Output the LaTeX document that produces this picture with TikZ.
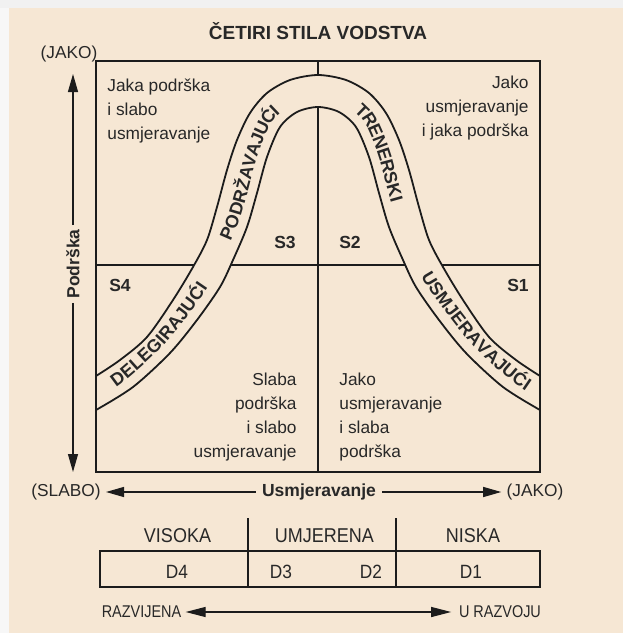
\documentclass[tikz,border=0pt]{standalone}
\usepackage{fontspec}
\setmainfont{Liberation Sans}
\usepackage{xcolor}
\usepackage{tikz}
\usetikzlibrary{arrows.meta,positioning,decorations.text}
\definecolor{pagebg}{RGB}{246,231,212}
\definecolor{ink}{RGB}{40,40,40}
\definecolor{lineink}{RGB}{28,28,28}
\newcommand{\bandfont}{\fontsize{9}{10}\selectfont\bfseries}
\newcommand{\narrowtxt}[2][0.9]{\scalebox{#1}[1]{#2}}

\begin{document}
\begin{tikzpicture}[x=0.5pt, y=-0.5pt,
      txt/.style={font=\fontsize{8.65}{12}\selectfont, text=ink, inner sep=0pt},
      lbl/.style={font=\fontsize{8.75}{10}\selectfont\bfseries, text=ink},
      head/.style={font=\fontsize{10}{11}\selectfont, text=ink},
      tab/.style={font=\fontsize{9.6}{11}\selectfont, text=ink},
      small/.style={font=\fontsize{8.5}{10}\selectfont, text=ink, inner sep=2pt},
      frame/.style={draw=lineink, line width=0.65pt},
      band/.style={draw=lineink, line width=0.9pt, fill=pagebg},
      axis/.style={draw=lineink, line width=0.6pt, -{Triangle[length=9pt,width=5pt]}},
      twoway/.style={draw=lineink, line width=0.6pt,
                     {Triangle[length=10pt,width=5pt]}-{Triangle[length=10pt,width=5pt]}},
      curvetext/.style 2 args={postaction={decorate, decoration={text along path,
                     text={|\bandfont|#2}, text color=ink, raise=-3.2pt,
                     text align={left indent=#1}}}}
  ]
    \fill[gray!6] (0,0) rectangle (623,633);
    \fill[gray!11] (0,0) rectangle (623,8);
    \fill[pagebg] (9,8) rectangle (623,633);
    \useasboundingbox (0,0) rectangle (623,633);

    \node[lbl, font=\fontsize{9.5}{11}\selectfont\bfseries] (title) at (318,31) {ČETIRI STILA VODSTVA};

    % quadrants
    \draw[lineink, line width=0.6pt] (318,61) -- (318,472);
    \draw[lineink, line width=0.6pt] (96,265) -- (540,265);

    % bell band
    \filldraw[band] plot[smooth] coordinates {(96,376) (120,360) (147,337) (173,300) (193,267)
        (207,240) (217,207) (227,170) (237,140) (250,113) (267,93) (290,80) (318,75)
        (346,80) (369,93) (386,113) (399,140) (409,170) (419,207) (429,240) (443,267)
        (463,300) (489,337) (516,360) (540,376)}
      -- plot[smooth] coordinates {(540,410) (503,387) (466,353) (439,320) (416,287)
        (403,260) (389,227) (379,193) (369,157) (356,127) (339,112) (318,107) (297,112)
        (280,127) (267,157) (257,193) (247,227) (233,260) (220,287) (197,320) (170,353)
        (133,387) (96,410)} -- cycle;
    \path[curvetext={9.8pt}{DELEGIRAJUĆI}, curvetext={101.9pt}{PODRŽAVAJUĆI}]
      plot[smooth] coordinates {(96,393) (123,374) (158,342) (184,310) (206,279) (218,254)
        (232,222) (242,189) (252,152) (267,118) (290,98) (318,91)};
    \path[curvetext={21.9pt}{TRENERSKI}, curvetext={112.6pt}{USMJERAVAJUĆI}]
      plot[smooth] coordinates {(318,91) (346,98) (369,118) (384,152) (394,189) (404,222)
        (418,254) (430,279) (452,310) (478,342) (513,374) (540,393) (566,410) (592,428)};

    \draw[frame] (96,61) rectangle (540,472);

    \node[lbl] (s4) at (120,285) {S4};
    \node[lbl] (s3) at (285,242) {S3};
    \node[lbl] (s2) at (350,242) {S2};
    \node[lbl] (s1) at (518,285) {S1};

    \node[txt, anchor=north west, align=left] (tl) at (107,78) {Jaka podrška\\i slabo\\usmjeravanje};
    \node[txt, anchor=north east, align=right] (tr) at (529,76) {Jako\\usmjeravanje\\i jaka podrška};
    \node[txt, anchor=north east, align=right] (bl) at (297,373) {Slaba\\podrška\\i slabo\\usmjeravanje};
    \node[txt, anchor=north west, align=left] (br) at (339,373) {Jako\\usmjeravanje\\i slaba\\podrška};

    % axes
    \node[txt] (jakoy) at (69,54) {(JAKO)};
    \node[lbl, rotate=90, inner sep=2pt] (podrska) at (73,264) {Podrška};
    \coordinate (ytop) at (73,74);
    \coordinate (ybot) at (73,472);
    \draw[axis] (podrska) -- (ytop);
    \draw[axis] (podrska) -- (ybot);

    \node[lbl, inner sep=3pt] (usmj) at (319,492) {Usmjeravanje};
    \node[txt, inner sep=2.5pt] (slabo) at (66,492) {(SLABO)};
    \node[txt, inner sep=2.5pt] (jakox) at (535,492) {(JAKO)};
    \draw[axis] (usmj) -- (slabo);
    \draw[axis] (usmj) -- (jakox);

    % development levels
    \draw[frame] (100,551) rectangle (540,587);
    \draw[frame] (248,518) -- (248,587);
    \draw[frame] (396,518) -- (396,587);
    \node[head] (visoka) at (177.5,536) {\narrowtxt{VISOKA}};
    \node[head] (umjerena) at (324.5,536) {\narrowtxt{UMJERENA}};
    \node[head] (niska) at (473,536) {\narrowtxt{NISKA}};
    \node[tab] (d4) at (177,572) {\narrowtxt{D4}};
    \node[tab] (d3) at (281,572) {\narrowtxt{D3}};
    \node[tab] (d2) at (371,572) {\narrowtxt{D2}};
    \node[tab] (d1) at (471,572) {\narrowtxt{D1}};

    \node[small] (razv) at (141.5,612) {\narrowtxt[0.85]{RAZVIJENA}};
    \node[small, inner sep=3.75pt] (urazv) at (500,612) {\narrowtxt[0.85]{U RAZVOJU}};
    \draw[twoway] (razv) -- (urazv);
  \end{tikzpicture}
\end{document}
